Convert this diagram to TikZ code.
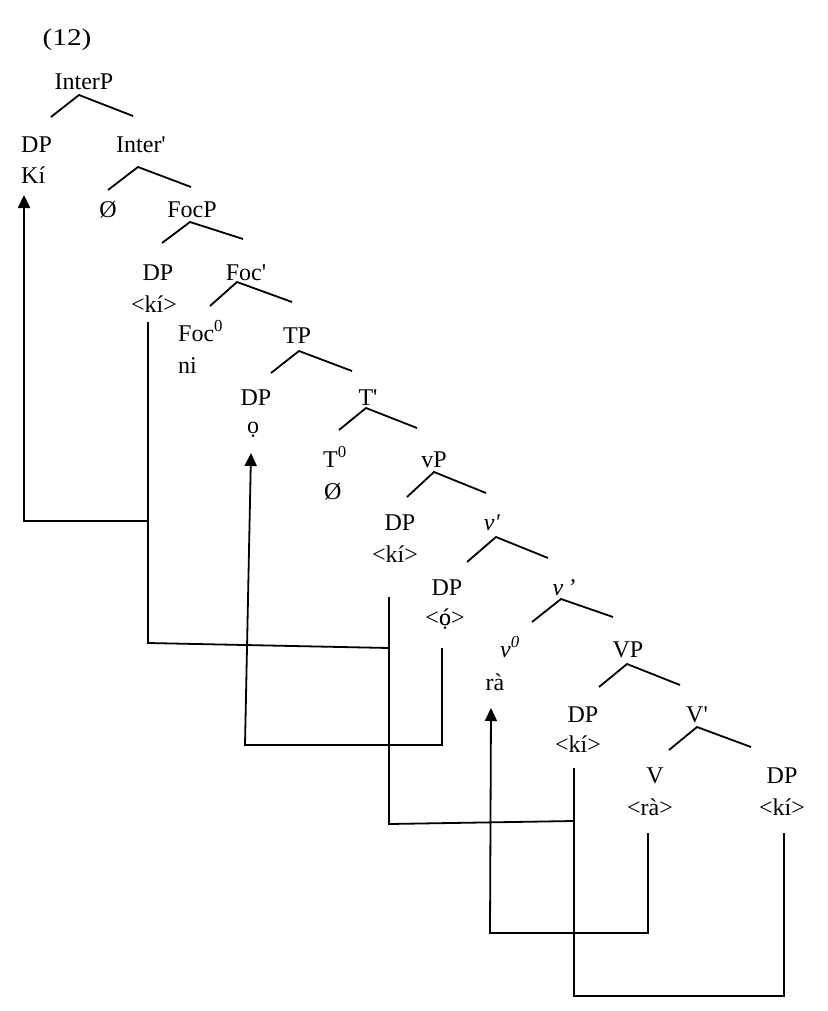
\documentclass[tikz,border=0pt]{standalone}
\usepackage{fontspec}
\setmainfont{Liberation Serif}[Ligatures=TeXOff]
\usetikzlibrary{arrows.meta}
\begin{document}
\begin{tikzpicture}[x=1pt,y=-1pt,
 lab/.style={inner sep=0pt,anchor=base,font=\fontsize{24}{28}\selectfont},
 labw/.style={lab,anchor=base west},
 br/.style={line width=1.8pt},
 mv/.style={line width=1.8pt},
 mva/.style={mv,-{Triangle[width=12pt,length=13pt]}}]
\useasboundingbox (0,0) rectangle (827,1011);
% labels
\node[lab] (ex) at (67,46) {\scalebox{1.22}[1]{(12)}};
\node[lab] (interP) at (84,90) {InterP};
\node[labw] (dpA) at (21,153) {DP};
\node[labw] (kiA) at (21,183) {Kí};
\node[lab] (interB) at (141,153) {Inter'};
\node[lab] (nullA) at (108,217) {Ø};
\node[lab] (focP) at (192,217) {FocP};
\node[lab] (dpB) at (158,280) {DP};
\node[lab] (kiB) at (154,312) {<kí>};
\node[lab] (focB) at (246,280) {Foc'};
\node[labw] (foc0) at (178,341) {Foc\textsuperscript{0}};
\node[labw] (ni) at (178,373) {ni};
\node[lab] (tP) at (297,343) {TP};
\node[lab] (dpC) at (256,405) {DP};
\node[lab] (oC) at (253,433) {ọ};
\node[lab] (tB) at (368,405) {T'};
\node[labw] (t0) at (323,467) {T\textsuperscript{0}};
\node[labw] (nullB) at (324,499) {Ø};
\node[lab] (vP) at (434,467) {vP};
\node[lab] (dpD) at (400,530) {DP};
\node[lab] (kiD) at (395,562) {<kí>};
\node[lab] (vB) at (492,530) {\textit{v'}};
\node[lab] (dpE) at (447,595) {DP};
\node[lab] (oE) at (445,625) {<\makebox[0pt][l]{ọ}ó>};
\node[lab] (vBB) at (564,595) {\textit{v\,’}};
\node[labw] (v0) at (500,657) {\textit{v}\textsuperscript{\textit{0}}};
\node[lab] (ra) at (495,690) {rà};
\node[lab] (vpP) at (628,657) {VP};
\node[lab] (dpF) at (583,722) {DP};
\node[lab] (kiF) at (578,752) {<kí>};
\node[lab] (VB) at (697,722) {V'};
\node[lab] (V) at (655,783) {V};
\node[lab] (raG) at (650,815) {<rà>};
\node[lab] (dpG) at (782,783) {DP};
\node[lab] (kiG) at (782,815) {<kí>};
% branches
\foreach \n/\l/\a/\r in {
 b1/{51,117}/{79,95}/{133,116},
 b2/{108,190}/{138,167}/{191,187},
 b3/{162,243}/{190,222}/{243,239},
 b4/{210,306}/{237,282}/{292,302},
 b5/{271,373}/{299,351}/{352,371},
 b6/{339,430}/{366,408}/{417,428},
 b7/{407,497}/{434,472}/{486,493},
 b8/{467,562}/{496,537}/{548,558},
 b9/{532,622}/{561,599}/{613,617},
 b10/{599,687}/{627,664}/{680,685},
 b11/{669,750}/{697,727}/{751,747}}{
 \coordinate (\n l) at (\l);
 \coordinate (\n a) at (\a);
 \coordinate (\n r) at (\r);
 \draw[br] (\n l) -- (\n a) -- (\n r);
}
% movement coordinates
\coordinate (kiAt) at (24,195);
\coordinate (kiBb) at (148,322);
\coordinate (kiDb) at (389,597);
\coordinate (kiFb) at (574,768);
\coordinate (kiGb) at (784,833);
\coordinate (oCt) at (251,453);
\coordinate (oEb) at (442,648);
\coordinate (rat) at (491,708);
\coordinate (raGb) at (648,833);
% ki chain
\draw[mv] (kiGb) -- (784,996) -- (574,996) -- (kiFb);
\draw[mv] (kiDb) -- (389,824) -- (574,821);
\draw[mv] (kiBb) -- (148,643) -- (389,648);
\draw[mva] (148,521) -- (24,521) -- (kiAt);
% o chain
\draw[mva] (oEb) -- (442,745) -- (245,745) -- (oCt);
% ra chain
\draw[mva] (raGb) -- (648,933) -- (490,933) -- (rat);
\end{tikzpicture}
\end{document}
